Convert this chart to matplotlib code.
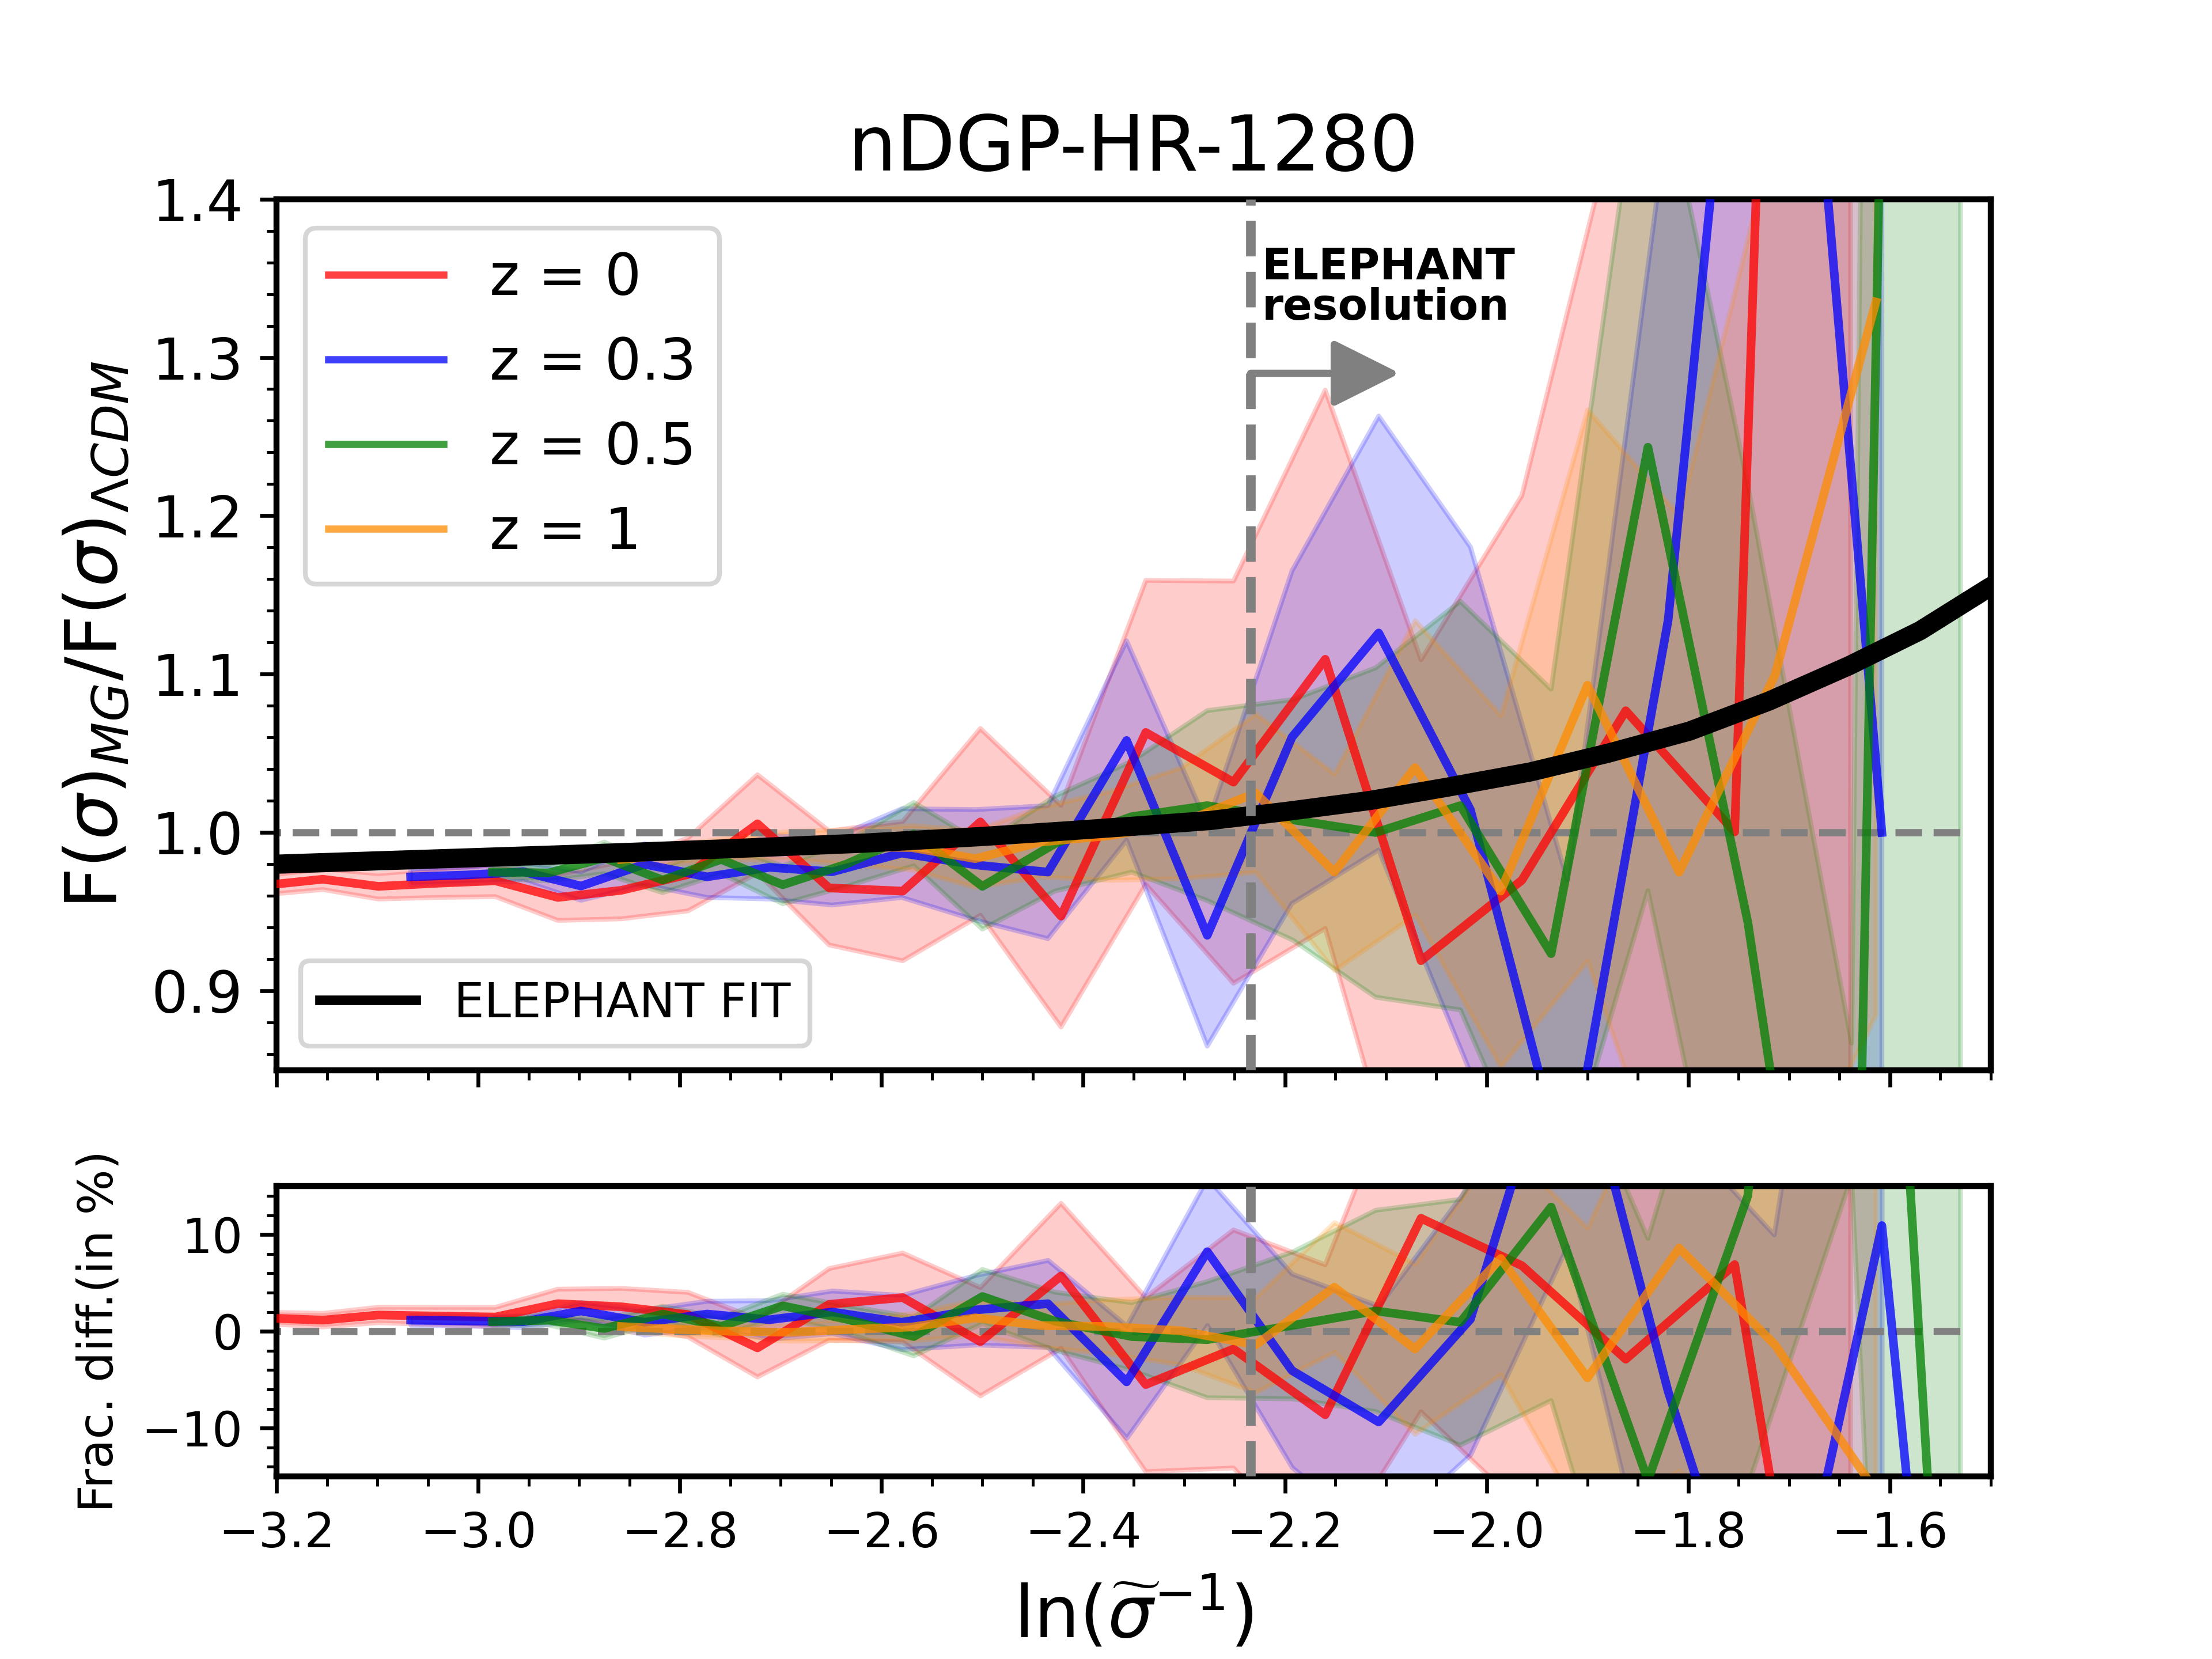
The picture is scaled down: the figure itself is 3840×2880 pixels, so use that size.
import numpy as np
import matplotlib
matplotlib.use('Agg')
import matplotlib.pyplot as plt
from matplotlib.lines import Line2D
from matplotlib.ticker import MultipleLocator, AutoMinorLocator

# ---------------- data ----------------
# z = 0
red_x = [-3.258, -3.207, -3.154, -3.099, -3.040, -2.983, -2.921, -2.858, -2.792, -2.723, -2.652,
         -2.579, -2.502, -2.422, -2.338, -2.251, -2.160, -2.065, -1.965, -1.862, -1.754, -1.639]
red_y = [0.967, 0.967, 0.9705, 0.966, 0.968, 0.9695, 0.959, 0.9635, 0.9735, 1.0055, 0.965,
         0.963, 1.0067, 0.9472, 1.0632, 1.0318, 1.1094, 0.9191, 0.9699, 1.0769, 1.0004, 3.17]
red_err = [0.006, 0.006, 0.0065, 0.008, 0.009, 0.010, 0.0145, 0.018, 0.023, 0.031, 0.036,
           0.044, 0.059, 0.070, 0.096, 0.127, 0.170, 0.190, 0.243, 0.40, 0.45, 2.6]
red_fd = [1.4, 1.37, 1.16, 1.69, 1.58, 1.48, 2.86, 2.54, 1.73, -1.71, 2.79,
          3.49, -1.07, 5.73, -5.5, -1.82, -8.62, 11.68, 6.79, -2.88, 6.90, -65.0]
red_fd_err = [0.6, 0.6, 0.7, 0.8, 0.9, 1.0, 1.5, 1.9, 2.3, 3.0, 3.7,
              4.6, 5.6, 7.5, 9.0, 12.3, 15.5, 20.0, 25.0, 37.0, 45.0, 90.0]

# z = 0.3
blue_x = [-3.067, -3.011, -2.955, -2.898, -2.835, -2.773, -2.711, -2.649, -2.580, -2.506,
          -2.435, -2.357, -2.277, -2.193, -2.107, -2.016, -1.920, -1.820, -1.715, -1.608]
blue_y = [0.9720, 0.9732, 0.9752, 0.9662, 0.9800, 0.9720, 0.9780, 0.9752, 0.9870, 0.9795,
          0.9750, 1.0581, 0.9351, 1.0602, 1.1260, 1.0143, 0.780, 1.134, 1.80, 1.000]
blue_err = [0.005, 0.005, 0.006, 0.009, 0.013, 0.013, 0.020, 0.021, 0.028, 0.035,
            0.042, 0.063, 0.070, 0.105, 0.137, 0.166, 0.19, 0.32, 1.0, 0.7]
blue_fd_x = [-3.067, -3.011, -2.955, -2.898, -2.835, -2.773, -2.711, -2.649, -2.580, -2.506,
             -2.435, -2.357, -2.277, -2.193, -2.107, -2.016, -1.920, -1.820, -1.715, -1.608, -1.505]
blue_fd = [1.16, 1.09, 1.0, 2.11, 0.94, 1.79, 1.2, 2.0, 0.94, 2.22,
           2.86, -5.22, 8.23, -4.05, -9.37, 1.26, 33.8, -6.2, -40.0, 10.93, -98.0]
blue_fd_err = [0.5, 0.5, 0.6, 0.9, 1.3, 1.35, 2.0, 2.2, 2.8, 3.6,
               4.5, 5.8, 7.6, 10.0, 12.0, 14.0, 25.0, 28.0, 50.0, 70.0, np.nan]

# z = 0.5
green_x = [-2.986, -2.930, -2.875, -2.817, -2.759, -2.698, -2.635, -2.568, -2.500, -2.428,
           -2.352, -2.277, -2.192, -2.110, -2.026, -1.936, -1.840, -1.741, -1.638, -1.530]
green_y = [0.975, 0.9745, 0.984, 0.970, 0.983, 0.967, 0.980, 0.999, 0.966, 0.993,
           1.010, 1.017, 1.008, 1.000, 1.017, 0.9235, 1.2433, 0.9435, 0.511, 4.07]
green_err = [0.004, 0.005, 0.010, 0.008, 0.009, 0.012, 0.014, 0.020, 0.027, 0.030,
             0.035, 0.060, 0.076, 0.104, 0.129, 0.167, 0.28, 0.276, 0.356, 3.4]
green_fd = [1.0, 1.16, 0.3, 1.79, 0.52, 2.64, 1.26, -0.54, 3.60, 1.05,
            -0.54, -0.86, 0.62, 2.11, 0.94, 12.85, -15.4, 14.0, 116.0, -72.0]
green_fd_err = [0.4, 0.5, 1.0, 0.8, 0.9, 1.2, 1.4, 2.0, 2.8, 3.0,
                3.5, 6.0, 7.6, 10.4, 12.7, 20.0, 25.0, 30.0, 100.0, 150.0]

# z = 1
orange_x = [-2.858, -2.803, -2.747, -2.690, -2.631, -2.570, -2.507, -2.442, -2.374, -2.303,
            -2.229, -2.151, -2.071, -1.986, -1.900, -1.809, -1.714, -1.614]
orange_y = [0.983, 0.9865, 0.990, 0.992, 0.991, 0.9905, 0.9835, 0.994, 0.998, 1.006,
            1.025, 0.975, 1.041, 0.963, 1.093, 0.975, 1.0994, 1.335]
orange_err = [0.005, 0.006, 0.007, 0.009, 0.011, 0.014, 0.018, 0.022, 0.028, 0.035,
              0.050, 0.062, 0.093, 0.111, 0.174, 0.225, 0.345, 0.45]
orange_fd = [0.5, 0.2, 0.0, -0.1, 0.2, 0.45, 1.4, 0.6, 0.5, 0.05,
             -1.4, 4.56, -1.82, 7.53, -4.8, 8.6, -1.4, -16.5]
orange_fd_err = [0.5, 0.6, 0.7, 0.9, 1.1, 1.4, 1.8, 2.2, 2.8, 3.5,
                 4.9, 6.7, 8.8, 12.0, 15.5, 23.0, 30.0, 40.0]

# ELEPHANT fit curve
fit_x = [-3.26, -3.2, -3.0, -2.886, -2.75, -2.617, -2.5, -2.417, -2.35, -2.274, -2.2,
         -2.116, -2.04, -1.957, -1.88, -1.799, -1.72, -1.640, -1.57, -1.503, -1.49]
fit_y = [0.9788, 0.980, 0.9842, 0.9866, 0.9898, 0.9933, 0.9975, 1.0010, 1.0040, 1.0076, 1.0132,
         1.0202, 1.0285, 1.0382, 1.0500, 1.0640, 1.0830, 1.1055, 1.1275, 1.1542, 1.159]

labels = ['z = 0', 'z = 0.3', 'z = 0.5', 'z = 1']
colors = ['red', 'blue', 'green', 'darkorange']
resolution_x = -2.234

# ---------------- figure ----------------
plt.rcParams['axes.linewidth'] = 1.25

fig, (ax1, ax2) = plt.subplots(2, 1, sharex=True, figsize=(6.4, 4.8), dpi=600,
                               gridspec_kw={'height_ratios': [3, 1]})

top = [(red_x, red_y, red_err), (blue_x, blue_y, blue_err),
       (green_x, green_y, green_err), (orange_x, orange_y, orange_err)]
bot = [(red_x, red_fd, red_fd_err), (blue_fd_x, blue_fd, blue_fd_err),
       (green_x, green_fd, green_fd_err), (orange_x, orange_fd, orange_fd_err)]

for (x, y, e), c in zip(top, colors):
    x = np.asarray(x); y = np.asarray(y); e = np.asarray(e)
    ax1.fill_between(x, y - e, y + e, color=c, alpha=0.2, zorder=1)
    ax1.plot(x, y, color=c, lw=1.8, alpha=0.75, zorder=3)

ax1.plot(fit_x, fit_y, color='black', lw=4.0, zorder=3.5)
ax1.hlines(1.0, -3.26, -1.52, colors='gray', linestyles='--', lw=1.5, zorder=2)
ax1.axvline(resolution_x, color='gray', ls='--', lw=2, zorder=4)

for (x, y, e), c in zip(bot, colors):
    x = np.asarray(x); y = np.asarray(y); e = np.asarray(e)
    ax2.fill_between(x, y - e, y + e, color=c, alpha=0.2, zorder=1)
    ax2.plot(x, y, color=c, lw=1.8, alpha=0.75, zorder=3)

ax2.hlines(0.0, -3.26, -1.52, colors='gray', linestyles='--', lw=1.5, zorder=2)
ax2.axvline(resolution_x, color='gray', ls='--', lw=2, zorder=4)

# arrow + text
ax1.annotate('', xy=(-2.086, 1.29), xytext=(resolution_x, 1.29),
             arrowprops=dict(arrowstyle='-|>', color='gray', lw=1.5,
                             mutation_scale=30, shrinkA=0, shrinkB=0), zorder=5)
ax1.text(-2.223, 1.370, 'ELEPHANT\nresolution', fontsize=9, fontweight='bold',
         ha='left', va='top', linespacing=0.95, zorder=5)

# limits and ticks
ax1.set_xlim(-3.2, -1.5)
ax1.set_ylim(0.85, 1.4)
ax2.set_ylim(-15, 15)
ax1.xaxis.set_major_locator(MultipleLocator(0.2))
ax1.xaxis.set_minor_locator(AutoMinorLocator())
ax1.yaxis.set_major_locator(MultipleLocator(0.1))
ax1.yaxis.set_minor_locator(AutoMinorLocator())
ax2.yaxis.set_major_locator(MultipleLocator(10))
ax2.yaxis.set_minor_locator(AutoMinorLocator())
ax1.tick_params(axis='y', which='major', labelsize=12)
ax2.tick_params(axis='both', which='major', labelsize=10)

# labels
ax1.set_title('nDGP-HR-1280', fontsize=16)
ax1.set_ylabel('F($\\sigma$)$_{MG}$/F($\\sigma$)$_{\\Lambda CDM}$', fontsize=15)
ax2.set_ylabel('Frac. diff.(in %)', fontsize=10)
ax2.set_xlabel(r'$\ln(\widetilde{\sigma}^{-1})$', fontsize=15)

# legends
z_handles = [Line2D([], [], color=c, lw=1.5, alpha=0.75) for c in colors]
leg1 = ax1.legend(z_handles, labels, loc='upper left', fontsize=12)
ax1.add_artist(leg1)
fit_handle = Line2D([], [], color='black', lw=2)
ax1.legend([fit_handle], ['ELEPHANT FIT'], loc='lower left', fontsize=10)

fig.savefig('out.png', dpi=600)
